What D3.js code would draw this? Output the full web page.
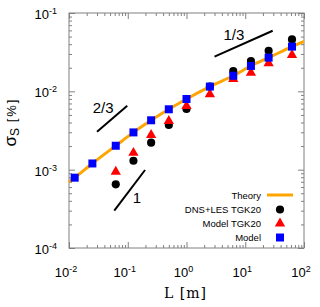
<!DOCTYPE html>
<html>
<head>
<meta charset="utf-8">
<script src="https://cdn.jsdelivr.net/npm/d3@7"></script>
<style>
  body { margin: 0; background: #fff; }
  svg { display: block; }
</style>
</head>
<body>
<svg id="chart" width="320" height="307"></svg>
<script>
// data
const modelL = [0.0125, 0.025, 0.0625, 0.125, 0.25, 0.5, 1, 2.5, 6.25, 12.5, 25, 62.5];
const modelSigma = [7.9e-4, 1.2e-3, 2.02e-3, 2.99e-3, 4.27e-3, 5.9e-3, 7.98e-3, 1.15e-2, 1.58e-2, 2.11e-2, 2.69e-2, 3.72e-2];

const dnsL = [0.0625, 0.125, 0.25, 0.5, 1, 2.5, 6.25, 12.5, 25, 62.5];
const dnsSigma = [6.5e-4, 1.3e-3, 2.21e-3, 3.72e-3, 5.94e-3, 1.15e-2, 1.82e-2, 2.44e-2, 3.3e-2, 4.6e-2];

const tgkL = [0.0625, 0.125, 0.25, 0.5, 1, 2.5, 6.25, 12.5, 25, 62.5];
const tgkSigma = [9.4e-4, 1.64e-3, 2.77e-3, 4.18e-3, 6.49e-3, 9.16e-3, 1.44e-2, 1.73e-2, 2.28e-2, 2.91e-2];

const theoryL = [0.01, 0.0125, 0.025, 0.0625, 0.125, 0.25, 0.5, 1, 2.5, 6.25, 12.5, 25, 62.5, 100];
const theorySigma = [6.95e-4, 7.9e-4, 1.2e-3, 2.02e-3, 2.99e-3, 4.27e-3, 5.9e-3, 7.98e-3, 1.15e-2, 1.58e-2, 2.11e-2, 2.69e-2, 3.72e-2, 4.35e-2];

// slope guide lines (end points in data units) and where the label sits
const slopeGuides = [
  { label: "2/3", pts: [[0.03, 3.05e-3], [0.098, 6.55e-3]], at: [0.038, 5.3e-3] },
  { label: "1/3", pts: [[3.0, 2.77e-2], [29.3, 5.94e-2]], at: [6.4, 4.5e-2] },
  { label: "1",   pts: [[0.059, 3.0e-4], [0.197, 9.9e-4]], at: [0.1435, 3.75e-4] }
];

const xTicks = [1e-2, 1e-1, 1e0, 1e1, 1e2];
const yTicks = [1e-4, 1e-3, 1e-2, 1e-1];

const legendLabels = ["Theory", "DNS+LES TGK20", "Model TGK20", "Model"];

const svg = d3.select("#chart");
const mLeft = 69, mTop = 13, w = 235, h = 235;

const x = d3.scaleLog().domain([1e-2, 1e2]).range([mLeft, mLeft + w]);
const y = d3.scaleLog().domain([1e-4, 1e-1]).range([mTop + h, mTop]);

const frameColor = "#808080";

// minor ticks (2..9 in each decade)
const minor = (ticks) => {
  const out = [];
  for (let i = 0; i < ticks.length - 1; i++) {
    for (let k = 2; k < 10; k++) out.push(ticks[i] * k);
  }
  return out;
};

const axisStyle = g => {
  g.select(".domain").remove();
  g.selectAll("line").attr("stroke", frameColor);
  g.selectAll("text").remove();
};

// ticks on all 4 sides, pointing inward
[[d3.axisBottom, x, `translate(0,${mTop + h})`],
 [d3.axisTop, x, `translate(0,${mTop})`],
 [d3.axisLeft, y, `translate(${mLeft},0)`],
 [d3.axisRight, y, `translate(${mLeft + w},0)`]].forEach(([ax, sc, tr]) => {
  const ticks = sc === x ? xTicks : yTicks;
  svg.append("g").attr("transform", tr)
    .call(ax(sc).tickValues(minor(ticks)).tickSize(-3).tickFormat(""))
    .call(axisStyle);
  svg.append("g").attr("transform", tr)
    .call(ax(sc).tickValues(ticks).tickSize(-6).tickFormat(""))
    .call(axisStyle);
});

// frame
svg.append("rect")
  .attr("x", mLeft).attr("y", mTop).attr("width", w).attr("height", h)
  .attr("fill", "none").attr("stroke", frameColor).attr("stroke-width", 1);

// tick labels with superscripts
const tickLabel = (sel, v) => {
  const e = Math.round(Math.log10(v));
  sel.text("10");
  sel.append("tspan").attr("dy", -5).attr("font-size", 9).text(e);
};

svg.append("g").selectAll("text").data(xTicks).join("text")
  .attr("x", d => x(d) - 3).attr("y", mTop + h + 29)
  .attr("text-anchor", "middle")
  .attr("font-family", "Liberation Sans, Arial, sans-serif")
  .attr("font-size", 13)
  .each(function(d) { tickLabel(d3.select(this), d); });

svg.append("g").selectAll("text").data(yTicks).join("text")
  .attr("x", mLeft - 12).attr("y", d => y(d) + 6)
  .attr("text-anchor", "end")
  .attr("font-family", "Liberation Sans, Arial, sans-serif")
  .attr("font-size", 13)
  .each(function(d) { tickLabel(d3.select(this), d); });

// axis titles
svg.append("text")
  .attr("x", mLeft + w / 2 - 1).attr("y", 298)
  .attr("text-anchor", "middle")
  .attr("font-family", "DejaVu Serif, serif")
  .attr("font-size", 14)
  .attr("letter-spacing", 1)
  .text("L [m]");

const yt = svg.append("text")
  .attr("transform", "translate(16,122) rotate(-90)")
  .attr("text-anchor", "middle")
  .attr("font-family", "Liberation Sans, Arial, sans-serif")
  .attr("font-size", 17);
yt.append("tspan").text("σ");
yt.append("tspan").attr("dy", 3).attr("font-size", 12).text("S");
yt.append("tspan").attr("dy", -3).attr("font-size", 13).attr("letter-spacing", 2).text(" [%]");

// theory curve
const line = d3.line().x(d => x(d[0])).y(d => y(d[1])).curve(d3.curveMonotoneX);
svg.append("path")
  .datum(d3.zip(theoryL, theorySigma))
  .attr("d", line)
  .attr("fill", "none")
  .attr("stroke", "#ffa500")
  .attr("stroke-width", 3);

// slope guides
slopeGuides.forEach(s => {
  svg.append("line")
    .attr("x1", x(s.pts[0][0])).attr("y1", y(s.pts[0][1]))
    .attr("x2", x(s.pts[1][0])).attr("y2", y(s.pts[1][1]))
    .attr("stroke", "#000").attr("stroke-width", 2);
  svg.append("text")
    .attr("x", x(s.at[0])).attr("y", y(s.at[1]))
    .attr("text-anchor", "middle")
    .attr("font-family", "Liberation Sans, Arial, sans-serif")
    .attr("font-size", 15)
    .text(s.label);
});

// markers
const circleSym = d3.symbol().type(d3.symbolCircle).size(52);
const triSym = d3.symbol().type(d3.symbolTriangle).size(46);
const sqSym = d3.symbol().type(d3.symbolSquare).size(64);

svg.append("g").selectAll("path").data(d3.zip(dnsL, dnsSigma)).join("path")
  .attr("d", circleSym)
  .attr("transform", d => `translate(${x(d[0])},${y(d[1])})`)
  .attr("fill", "#000");

svg.append("g").selectAll("path").data(d3.zip(tgkL, tgkSigma)).join("path")
  .attr("d", triSym)
  .attr("transform", d => `translate(${x(d[0])},${y(d[1])})`)
  .attr("fill", "#ff0000");

svg.append("g").selectAll("path").data(d3.zip(modelL, modelSigma)).join("path")
  .attr("d", sqSym)
  .attr("transform", d => `translate(${x(d[0])},${y(d[1])})`)
  .attr("fill", "#0000ff");

// legend
const lg = svg.append("g");
const rowY = [195, 209.5, 223.5, 237.5];
legendLabels.forEach((lab, i) => {
  lg.append("text")
    .attr("x", 261).attr("y", rowY[i] + 3.5)
    .attr("text-anchor", "end")
    .attr("font-family", "Liberation Sans, Arial, sans-serif")
    .attr("font-size", 9.5)
    .text(lab);
});
lg.append("line")
  .attr("x1", 267).attr("x2", 293).attr("y1", rowY[0]).attr("y2", rowY[0])
  .attr("stroke", "#ffa500").attr("stroke-width", 3);
lg.append("path").attr("d", circleSym).attr("transform", `translate(280,${rowY[1]})`).attr("fill", "#000");
lg.append("path").attr("d", triSym).attr("transform", `translate(280,${rowY[2]})`).attr("fill", "#ff0000");
lg.append("path").attr("d", sqSym).attr("transform", `translate(280,${rowY[3]})`).attr("fill", "#0000ff");
</script>
</body>
</html>
